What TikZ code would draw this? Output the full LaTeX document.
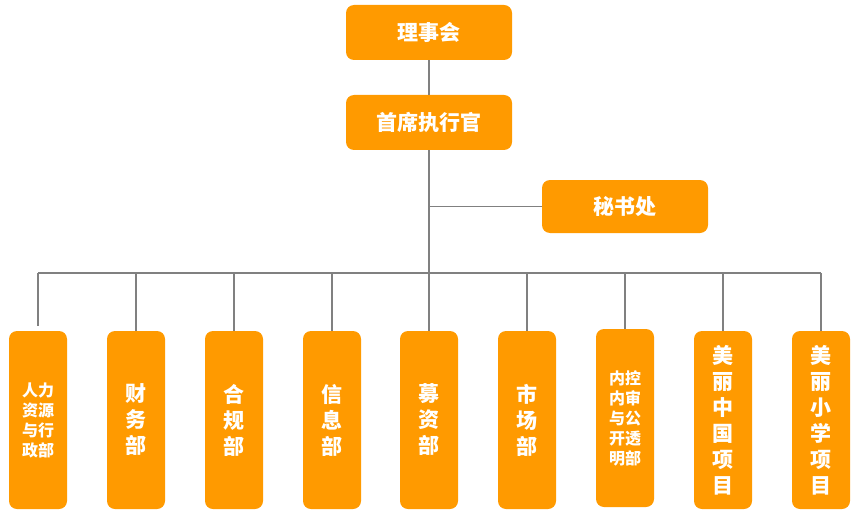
\documentclass[tikz,border=0pt]{standalone}
\usepackage{fontspec}
\newfontfamily\cjk{Noto Sans CJK SC}
\definecolor{boxorange}{HTML}{FF9A00}
\definecolor{linegray}{HTML}{808080}
\begin{document}
\begin{tikzpicture}[x=1pt,y=-1pt,
 orgbox/.style={fill=boxorange,rounded corners=8pt,inner sep=0pt,text=white,font=\cjk\bfseries\fontsize{21}{26}\selectfont,align=center},
 topbox/.style={orgbox,minimum width=166pt,minimum height=55pt},
 deptbox/.style={orgbox,minimum width=58pt,minimum height=178pt},
 smalltext/.style={font=\cjk\bfseries\fontsize{16}{20}\selectfont},
 link/.style={draw=linegray,line width=1.2pt}]
 \useasboundingbox (0,0) rectangle (858,513);
 \node[topbox](board) at (429,32.5) {理事会};
 \node[topbox](ceo) at (429,122.5) {首席执行官};
 \node[topbox,minimum height=53pt](sec) at (625,206.5) {秘书处};
 \node[deptbox,smalltext](d1) at (38,420) {人力\\资源\\与行\\政部};
 \node[deptbox](d2) at (136,420) {财\\务\\部};
 \node[deptbox](d3) at (234,420) {合\\规\\部};
 \node[deptbox](d4) at (332,420) {信\\息\\部};
 \node[deptbox](d5) at (429,420) {募\\资\\部};
 \node[deptbox](d6) at (527,420) {市\\场\\部};
 \node[deptbox,smalltext](d7) at (625,418) {内控\\内审\\与公\\开透\\明部};
 \node[deptbox](d8) at (723,420) {美\\丽\\中\\国\\项\\目};
 \node[deptbox](d9) at (821,420) {美\\丽\\小\\学\\项\\目};
 \coordinate (bus) at (429,273);
 \draw[link](board.south)--(ceo.north);
 \draw[link](ceo.south)--(d5.north);
 \draw[link](ceo.south|-sec.west)--(sec.west);
 \draw[link](d1.north|-bus)--(d9.north|-bus);
 \draw[link,shorten <=5pt](d1.north)--(d1.north|-bus);
 \draw[link](d2.north)--(d2.north|-bus);
 \draw[link](d3.north)--(d3.north|-bus);
 \draw[link](d4.north)--(d4.north|-bus);
 \draw[link](d6.north)--(d6.north|-bus);
 \draw[link](d7.north)--(d7.north|-bus);
 \draw[link](d8.north)--(d8.north|-bus);
 \draw[link](d9.north)--(d9.north|-bus);
\end{tikzpicture}
\end{document}
